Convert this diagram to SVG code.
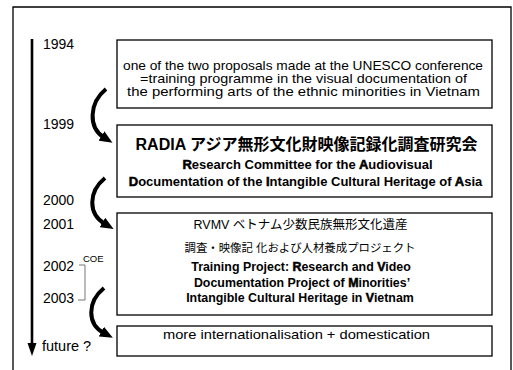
<svg xmlns="http://www.w3.org/2000/svg" width="513" height="370" viewBox="0 0 513 370">
<style>
.frame{fill:none;stroke:#000;stroke-width:1.3}
.box{fill:#fff;stroke:#000;stroke-width:1.3}
.t{font-family:"Liberation Sans","Noto Sans CJK JP",sans-serif;fill:#000}
.yr{font-size:14px}
.c{text-anchor:middle}
.b{font-weight:bold}
.em{stroke:#000;stroke-width:0.55}
.arc{fill:none;stroke:#000;stroke-width:4;marker-end:url(#ah)}
.br{fill:none;stroke:#777;stroke-width:1}
</style>
<defs>
<marker id="ah" markerUnits="userSpaceOnUse" viewBox="0 0 13 11" markerWidth="13" markerHeight="11" refX="3" refY="5.5" orient="auto">
<path d="M0,0 L13,5.5 L0,11 z" fill="#000"/>
</marker>
</defs>
<rect width="513" height="370" fill="#fff"/>
<path class="frame" d="M13,372 V7 H511 V372"/>

<g id="timeline">
<line x1="32" y1="39" x2="32" y2="345" stroke="#000" stroke-width="2.6"/>
<polygon points="27.5,343 36.5,343 32,356" fill="#000"/>
<text class="t yr" x="43" y="49">1994</text>
<text class="t yr" x="43" y="129">1999</text>
<text class="t yr" x="43" y="205">2000</text>
<text class="t yr" x="43" y="229">2001</text>
<text class="t yr" x="43" y="271">2002</text>
<text class="t yr" x="43" y="303">2003</text>
<text class="t" x="42" y="351" font-size="14.5">future ?</text>
<text class="t" x="83" y="262" font-size="9.5">COE</text>
<path class="br" d="M79,265 H85 V300 H78"/>
</g>

<g id="connectors">
<path class="arc" d="M106,89 C89,103 88,127.5 104,137.5"/>
<path class="arc" d="M105,178 C88,192 88,214 105,224"/>
<path class="arc" d="M104,288 C87,302 87,324 104,333"/>
</g>

<g id="box1">
<rect class="box" x="117" y="40" width="375" height="68"/>
<text class="t c" x="303" y="70" font-size="12.6" textLength="360" lengthAdjust="spacingAndGlyphs">one of the two proposals made at the UNESCO conference</text>
<text class="t c" x="303.5" y="83" font-size="12.6" textLength="327" lengthAdjust="spacingAndGlyphs">=training programme in the visual documentation of</text>
<text class="t c" x="303.5" y="96" font-size="12.6" textLength="353" lengthAdjust="spacingAndGlyphs">the performing arts of the ethnic minorities in Vietnam</text>
</g>

<g id="box2">
<rect class="box" x="117" y="125" width="375" height="72"/>
<text class="t c b" x="306.5" y="150" font-size="16">RADIA アジア無形文化財映像記録化調査研究会</text>
<text class="t c b" x="307.5" y="169" font-size="13"><tspan class="em">R</tspan>esearch Committee for the <tspan class="em">A</tspan>udiovisual</text>
<text class="t c b" x="305.5" y="186" font-size="13"><tspan class="em">D</tspan>ocumentation of the <tspan class="em">I</tspan>ntangible Cultural Heritage of <tspan class="em">A</tspan>sia</text>
</g>

<g id="box3">
<rect class="box" x="117" y="213" width="375" height="102"/>
<text class="t c" x="300.5" y="229" font-size="12.5">RVMV ベトナム少数民族無形文化遺産</text>
<text class="t c" x="300" y="252" font-size="11.4">調査・映像記 化および人材養成プロジェクト</text>
<text class="t c b" x="301" y="271" font-size="12.4">Training Project: <tspan class="em">R</tspan>esearch and <tspan class="em">V</tspan>ideo</text>
<text class="t c b" x="302" y="287" font-size="12.4">Documentation Project of <tspan class="em">M</tspan>inorities’</text>
<text class="t c b" x="300" y="302" font-size="12.4">Intangible Cultural Heritage in <tspan class="em">V</tspan>ietnam</text>
</g>

<g id="box4">
<rect class="box" x="117" y="326" width="375" height="30"/>
<text class="t c" x="296.5" y="339" font-size="13" textLength="267" lengthAdjust="spacingAndGlyphs">more internationalisation + domestication</text>
</g>
</svg>
